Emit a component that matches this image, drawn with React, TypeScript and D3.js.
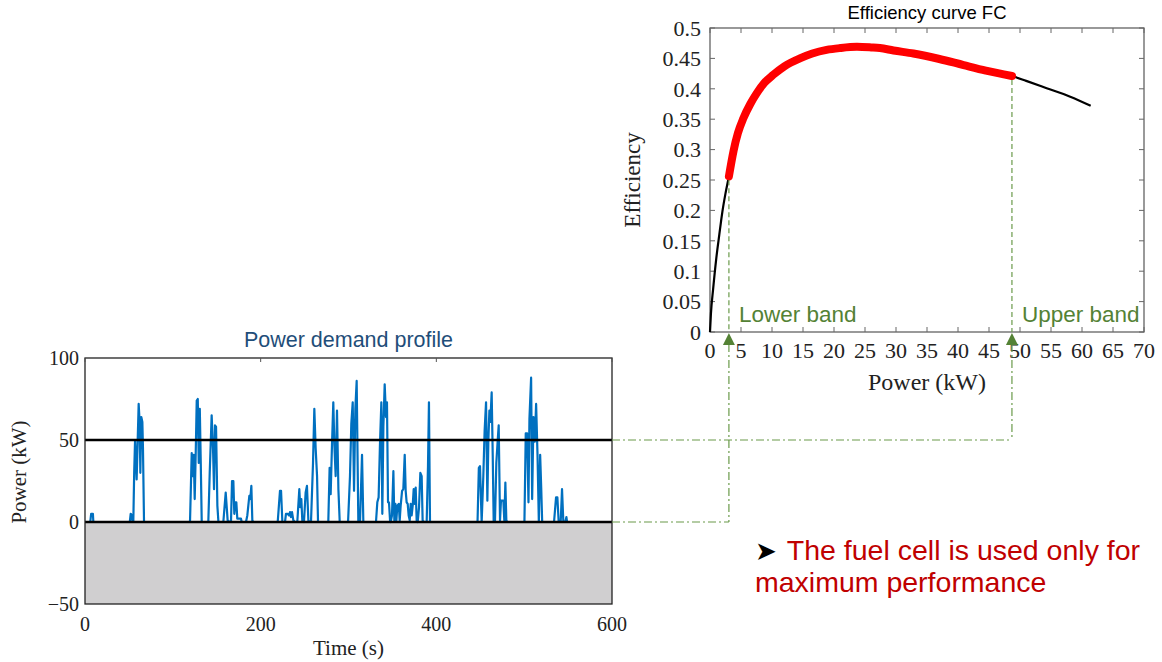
import React, { useEffect, useRef } from 'react';
import * as d3 from 'd3';

// Efficiency curve of the fuel cell (power in kW, efficiency)
const effPower = [0, 0.15, 0.5, 1, 1.5, 2, 2.5, 3.05, 3.8, 4.5, 5.4, 6.5, 7.5, 8.8, 10.2, 12, 14.5, 16.5, 18.8, 21, 23.7, 26, 27.4, 29.6, 32.8, 37, 40.9, 44.5, 48.7, 51, 54.3, 58.1, 61.4];
const effValue = [0, 0.03, 0.07, 0.12, 0.16, 0.198, 0.228, 0.256, 0.298, 0.327, 0.352, 0.375, 0.392, 0.41, 0.423, 0.437, 0.45, 0.458, 0.464, 0.467, 0.469, 0.468, 0.467, 0.463, 0.458, 0.449, 0.439, 0.43, 0.421, 0.413, 0.401, 0.387, 0.372];

const bandLower = 3.05;
const bandUpper = 48.7;
// power-demand levels the bands are linked to
const linkLower = 0;
const linkUpper = 50;

const effXTicks = [0, 5, 10, 15, 20, 25, 30, 35, 40, 45, 50, 55, 60, 65, 70];
const effYTicks = [0, 0.05, 0.1, 0.15, 0.2, 0.25, 0.3, 0.35, 0.4, 0.45, 0.5];

// Power demand profile (time in s, power in kW)
const demandTime = [
  0, 6, 7, 9, 9.5,
  51, 52, 53.5, 54,
  55, 56, 57, 58.8, 60, 61.1, 62.2, 63, 64.1, 65.3, 66, 67.2,
  119.2, 119.6, 121.5, 122.7, 123.8, 124.9, 126.1, 127.2, 128.4, 129.5, 130.7, 131.8, 132.9,
  140.4, 142, 144.2, 145.8, 146.9, 148, 149.2, 150.7, 151.9,
  157.5, 160.2, 162.4, 164.7,
  166.2, 167.4, 168.9, 170, 171.2, 172.3, 173.4, 174.6, 177.6, 178.4,
  183.3, 184.8, 187.1, 188.2, 189.4, 190.5, 191.7,
  219.4, 222, 223.2, 224.7,
  227.7, 228.8, 230.7, 232.3, 233.4, 234.5, 235.7, 237.2, 239.1,
  241.7, 244, 245.1, 246.3, 247.4, 249.3, 251.2, 252.7, 254.3, 255.8,
  257.3, 259.6, 261.1, 262.6, 264.2, 265.3,
  277, 278.5, 279.7, 281.2, 282.7, 283.9, 285.4, 286.9, 288.5, 290,
  299.5, 301.7, 303.2, 304.8, 306.3, 307.8, 309.3, 311.2, 313.1, 315.4, 316.9,
  331.3, 332.8, 334.3, 335.8, 337.4, 338.5, 339.7, 341.2, 342.7, 343.8, 345, 346.1, 347.3, 348,
  349.5, 351.1, 352.2, 353.4, 354.5, 355.6, 357.2, 358.3, 359.4, 361, 362.4, 364, 365.1, 366.2, 367.4, 368.5, 369.7, 370.8, 371.9, 373.1, 374.2, 375.4, 376.5, 377.6, 378.8, 380.3, 381.8, 383.3, 384.4, 386,
  389, 390.5, 391.6, 392.8,
  446.9, 448.4, 449.7, 451.6, 453.5, 455, 456.6, 458.1, 459.2, 460.4, 461.5, 463, 464.2, 465.3, 466.8, 468.3, 469.8, 471, 472.5, 473.6, 474.8, 476.3, 477.4, 478.6, 479.7, 480.8,
  500.3, 501.8, 503.4, 504.9, 506, 507.9, 509.1, 510.6, 512.1, 513.6, 515.2, 516.7, 518.2, 519.4, 520.5,
  534, 536.3, 537.8, 539.3, 541.6, 543.1, 544.6, 546.9, 548.1, 548.8, 600,
];
const demandPower = [
  0, 0, 5, 5, 0,
  0, 5, 4, 0,
  0, 30, 50, 26, 50, 72, 61, 30, 64, 61, 45, 0,
  0, 1, 42, 28, 41, 14, 43, 74, 75, 36, 69, 36, 0,
  0, 30, 65, 44, 20, 59, 58, 10, 0,
  0, 18, 1, 0,
  0, 25, 25, 5, 12, 12, 2, 2, 2, 0,
  0, 4, 16, 14, 22, 1, 0,
  0, 19, 19, 0,
  0, 5, 5, 4, 6, 3, 6, 1, 0,
  0, 20, 9, 14, 1, 0, 18, 22, 1, 0,
  0, 36, 69, 45, 28, 0,
  0, 33, 17, 47, 73, 47, 28, 68, 20, 0,
  0, 28, 60, 73, 19, 69, 86, 0, 0, 41, 0,
  0, 12, 15, 47, 73, 5, 58, 84, 64, 73, 12, 12, 1, 0,
  4, 31, 1, 11, 1, 10, 11, 1, 10, 19, 20, 41, 19, 12, 11, 4, 1, 11, 4, 10, 20, 11, 21, 1, 0, 9, 30, 28, 1, 0,
  0, 34, 73, 0,
  0, 33, 34, 0, 28, 56, 73, 13, 49, 68, 61, 79, 41, 0, 1, 36, 49, 59, 1, 13, 13, 13, 1, 24, 1, 0,
  0, 54, 54, 12, 63, 88, 14, 64, 49, 72, 41, 0, 41, 21, 0,
  0, 15, 15, 0, 0, 20, 0, 0, 3, 0, 0,
];

const demandXTicks = [0, 200, 400, 600];
const demandYTicks = [-50, 0, 50, 100];

const SERIF = '"Liberation Serif", "Times New Roman", serif';
const SANS = '"Liberation Sans", Arial, sans-serif';
const GREEN = '#548235';
const GREEN_LINE = '#6a9a4a';

export default function App() {
  const svgRef = useRef<SVGSVGElement>(null);

  useEffect(() => {
    if (!svgRef.current) return;
    const svg = d3.select(svgRef.current);
    svg.selectAll('*').remove();

    // ---------- Efficiency curve ----------
    const ex = d3.scaleLinear().domain([0, 70]).range([710, 1144]);
    const ey = d3.scaleLinear().domain([0, 0.5]).range([332, 28]);
    const eff = svg.append('g');

    eff.append('text')
      .attr('x', (ex(0) + ex(70)) / 2)
      .attr('y', 19)
      .attr('text-anchor', 'middle')
      .attr('font-family', SANS)
      .attr('font-size', 18.5)
      .attr('fill', '#000')
      .text('Efficiency curve FC');

    eff.append('rect')
      .attr('x', ex(0)).attr('y', ey(0.5))
      .attr('width', ex(70) - ex(0)).attr('height', ey(0) - ey(0.5))
      .attr('fill', 'none').attr('stroke', '#555').attr('stroke-width', 1.2);

    effXTicks.forEach(t => {
      eff.append('line').attr('x1', ex(t)).attr('x2', ex(t)).attr('y1', ey(0)).attr('y2', ey(0) - 5).attr('stroke', '#666');
      eff.append('line').attr('x1', ex(t)).attr('x2', ex(t)).attr('y1', ey(0.5)).attr('y2', ey(0.5) + 5).attr('stroke', '#666');
      eff.append('text')
        .attr('x', ex(t)).attr('y', ey(0) + 26)
        .attr('text-anchor', 'middle')
        .attr('font-family', SERIF).attr('font-size', 22).attr('fill', '#222')
        .text(String(t));
    });
    effYTicks.forEach(t => {
      eff.append('line').attr('x1', ex(0)).attr('x2', ex(0) + 5).attr('y1', ey(t)).attr('y2', ey(t)).attr('stroke', '#666');
      eff.append('line').attr('x1', ex(70)).attr('x2', ex(70) - 5).attr('y1', ey(t)).attr('y2', ey(t)).attr('stroke', '#666');
      eff.append('text')
        .attr('x', ex(0) - 9).attr('y', ey(t)).attr('dy', '0.35em')
        .attr('text-anchor', 'end')
        .attr('font-family', SERIF).attr('font-size', 22).attr('fill', '#222')
        .text(String(+t.toFixed(2)));
    });

    eff.append('text')
      .attr('transform', `translate(640,180) rotate(-90)`)
      .attr('text-anchor', 'middle')
      .attr('font-family', SERIF).attr('font-size', 23).attr('fill', '#222')
      .text('Efficiency');
    eff.append('text')
      .attr('x', (ex(0) + ex(70)) / 2).attr('y', 390)
      .attr('text-anchor', 'middle')
      .attr('font-family', SERIF).attr('font-size', 24).attr('fill', '#222')
      .text('Power (kW)');

    const curvePts = effPower.map((p, i) => [p, effValue[i]] as [number, number]);
    const effLine = d3.line<[number, number]>()
      .x(d => ex(d[0])).y(d => ey(d[1]))
      .curve(d3.curveMonotoneX);

    eff.append('path')
      .attr('d', effLine(curvePts))
      .attr('fill', 'none').attr('stroke', '#000').attr('stroke-width', 2.2);
    eff.append('path')
      .attr('d', effLine(curvePts.filter(d => d[0] >= bandLower && d[0] <= bandUpper)))
      .attr('fill', 'none').attr('stroke', '#ff0000').attr('stroke-width', 8)
      .attr('stroke-linecap', 'round').attr('stroke-linejoin', 'round');

    // ---------- Power demand profile ----------
    const px = d3.scaleLinear().domain([0, 600]).range([85, 612]);
    const py = d3.scaleLinear().domain([-50, 100]).range([604, 358]);
    const pw = svg.append('g');

    pw.append('text')
      .attr('x', (px(0) + px(600)) / 2).attr('y', 347)
      .attr('text-anchor', 'middle')
      .attr('font-family', SANS).attr('font-size', 21.5).attr('fill', '#1f4e79')
      .text('Power demand profile');

    pw.append('rect')
      .attr('x', px(0)).attr('y', py(0))
      .attr('width', px(600) - px(0)).attr('height', py(-50) - py(0))
      .attr('fill', '#d0cfd0');

    pw.append('clipPath').attr('id', 'plotClip')
      .append('rect')
      .attr('x', px(0)).attr('y', py(100))
      .attr('width', px(600) - px(0)).attr('height', py(-50) - py(100));

    const demandPts = demandTime.map((t, i) => [t, demandPower[i]] as [number, number]);
    pw.append('path')
      .attr('clip-path', 'url(#plotClip)')
      .attr('d', d3.line<[number, number]>().x(d => px(d[0])).y(d => py(d[1]))(demandPts))
      .attr('fill', 'none').attr('stroke', '#0070c0').attr('stroke-width', 2.2)
      .attr('stroke-linejoin', 'round');

    [linkUpper, linkLower].forEach(v => {
      pw.append('line')
        .attr('x1', px(0)).attr('x2', px(600)).attr('y1', py(v)).attr('y2', py(v))
        .attr('stroke', '#000').attr('stroke-width', 2.5);
    });

    pw.append('rect')
      .attr('x', px(0)).attr('y', py(100))
      .attr('width', px(600) - px(0)).attr('height', py(-50) - py(100))
      .attr('fill', 'none').attr('stroke', '#222').attr('stroke-width', 1.3);

    demandXTicks.forEach(t => {
      pw.append('line').attr('x1', px(t)).attr('x2', px(t)).attr('y1', py(100)).attr('y2', py(100) + 4).attr('stroke', '#555');
      pw.append('text')
        .attr('x', px(t)).attr('y', 631)
        .attr('text-anchor', 'middle')
        .attr('font-family', SERIF).attr('font-size', 20).attr('fill', '#222')
        .text(String(t));
    });
    demandYTicks.forEach(t => {
      pw.append('text')
        .attr('x', px(0) - 6).attr('y', py(t)).attr('dy', '0.35em')
        .attr('text-anchor', 'end')
        .attr('font-family', SERIF).attr('font-size', 20).attr('fill', '#222')
        .text(t < 0 ? `\u2212${Math.abs(t)}` : String(t));
    });

    pw.append('text')
      .attr('transform', `translate(26,472) rotate(-90)`)
      .attr('text-anchor', 'middle')
      .attr('font-family', SERIF).attr('font-size', 21).attr('fill', '#222')
      .text('Power (kW)');
    pw.append('text')
      .attr('x', (px(0) + px(600)) / 2).attr('y', 655)
      .attr('text-anchor', 'middle')
      .attr('font-family', SERIF).attr('font-size', 21).attr('fill', '#222')
      .text('Time (s)');

    // ---------- Band links ----------
    const links = svg.append('g');
    const bands = [
      { kw: bandLower, level: linkLower, label: 'Lower band' },
      { kw: bandUpper, level: linkUpper, label: 'Upper band' },
    ];
    const effAt = (p: number) => {
      const i = d3.bisectLeft(effPower, p);
      const a = Math.max(0, i - 1);
      const t = (p - effPower[a]) / (effPower[i] - effPower[a] || 1);
      return effValue[a] + t * (effValue[i] - effValue[a]);
    };
    bands.forEach(b => {
      const x = ex(b.kw);
      links.append('line')
        .attr('x1', x).attr('x2', x).attr('y1', ey(effAt(b.kw)) + 4).attr('y2', ey(0))
        .attr('stroke', GREEN_LINE).attr('stroke-width', 1.2).attr('stroke-dasharray', '5,3');
      links.append('line')
        .attr('x1', x).attr('x2', x).attr('y1', ey(0) + 12).attr('y2', py(b.level))
        .attr('stroke', GREEN_LINE).attr('stroke-width', 1.2).attr('stroke-dasharray', '8,3,2,3');
      links.append('line')
        .attr('x1', px(600)).attr('x2', x).attr('y1', py(b.level)).attr('y2', py(b.level))
        .attr('stroke', GREEN_LINE).attr('stroke-width', 1.2).attr('stroke-dasharray', '8,3,2,3');
      links.append('path')
        .attr('d', `M${x},${ey(0) + 1} L${x - 6},${ey(0) + 13} L${x + 6},${ey(0) + 13} Z`)
        .attr('fill', GREEN);
      links.append('text')
        .attr('x', x + 10).attr('y', ey(0) - 10)
        .attr('font-family', SANS).attr('font-size', 22.5).attr('fill', GREEN)
        .text(b.label);
    });

    // ---------- Note ----------
    const note = svg.append('text')
      .attr('font-family', SANS).attr('font-size', 28.5).attr('fill', '#c00000');
    note.append('tspan').attr('x', 755).attr('y', 560)
      .attr('fill', '#000').attr('font-family', '"DejaVu Sans", sans-serif').attr('font-size', 26)
      .text('\u27A4');
    note.append('tspan').attr('dx', 10).text('The fuel cell is used only for');
    note.append('tspan').attr('x', 755).attr('y', 592).text('maximum performance');
  }, []);

  return (
    <svg
      ref={svgRef}
      width={1162}
      height={662}
      style={{ position: 'absolute', left: 0, top: 0, background: '#fff' }}
    />
  );
}
